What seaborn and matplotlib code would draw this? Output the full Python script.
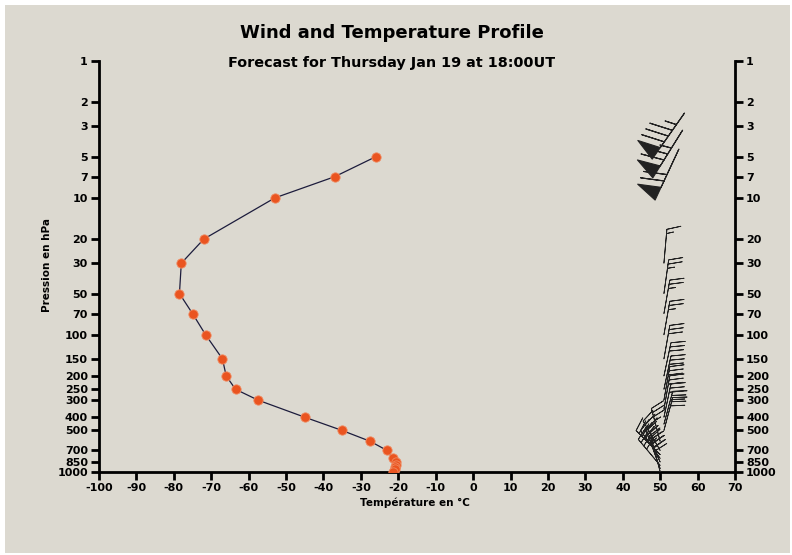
import matplotlib.pyplot as plt
import seaborn as sns
import numpy as np
from matplotlib.patches import Rectangle

# ----------------------------
# Data
# ----------------------------
pressure = [5, 7, 10, 20, 30, 50, 70, 100, 150, 200, 250, 300, 400, 500,
            600, 700, 800, 850, 900, 925, 950, 1000]
temperature = [-26, -37, -53, -72, -78, -78.5, -75, -71.5, -67, -66, -63.5,
               -57.5, -45, -35, -27.5, -23, -21.5, -20.5, -20.5, -21, -21, -21.5]

# wind column (upper strong winds)
wind_up_p = [2.4, 3.2, 4.4]
wind_up_x = [56.5, 56, 55]
wind_up_dir = [215, 212, 205]
wind_up_spd = [85, 75, 70]

# wind column (middle levels)
wind_p = [30, 50, 70, 100, 150, 200, 250, 300, 350, 400, 450, 500]
wind_x = [51, 51, 51, 51, 51, 51, 51, 51, 51, 51, 51, 51]
wind_dir = [5, 8, 10, 10, 10, 12, 12, 10, 10, 12, 15, 15]
wind_spd = [15, 25, 25, 25, 30, 30, 30, 30, 30, 30, 30, 30]

# wind column (low levels)
wind_lo_p = [600, 700, 750, 800, 850, 900, 950, 1000]
wind_lo_x = [50, 50, 50, 50, 50, 50, 50, 50]
wind_lo_dir = [345, 330, 315, 325, 335, 320, 340, 345]
wind_lo_spd = [35, 35, 35, 35, 35, 40, 40, 40]

yticks = [1, 2, 3, 5, 7, 10, 20, 30, 50, 70, 100, 150, 200, 250, 300,
          400, 500, 700, 850, 1000]
xticks = list(range(-100, 71, 10))

bg = "#dcd9d0"
sns.set_style("ticks")
plt.rcParams['font.family'] = ['DejaVu Sans']
plt.rcParams['font.weight'] = 'bold'
plt.rcParams['text.color'] = 'black'

fig = plt.figure(figsize=(7.92, 5.55), dpi=100)
fig.patch.set_facecolor("white")
fig.patches.append(Rectangle((5 / 792, 2 / 555), 785 / 792, 548 / 555,
                             transform=fig.transFigure, facecolor=bg,
                             edgecolor="none", zorder=-10))

ax = fig.add_axes([99 / 792, 1 - 471.7 / 555, 636 / 792, 410.7 / 555])
ax.set_facecolor(bg)

# ----------------------------
# Temperature profile
# ----------------------------
sns.lineplot(x=temperature, y=pressure, sort=False, estimator=None,
             color="#1c1c3c", linewidth=0.9, ax=ax, zorder=2)
sns.scatterplot(x=temperature, y=pressure, color="#ea5420", s=45,
                edgecolor="#f08a60", linewidth=0.6, ax=ax, zorder=3)

# ----------------------------
# Wind barbs
# ----------------------------
def to_uv(spd, d):
    r = np.deg2rad(np.array(d, dtype=float))
    s = np.array(spd, dtype=float)
    return -s * np.sin(r), -s * np.cos(r)

u1, v1 = to_uv(wind_up_spd, wind_up_dir)
ax.barbs(wind_up_x, wind_up_p, u1, v1, length=9, linewidth=0.8,
         color="#222222", zorder=4)
u2, v2 = to_uv(wind_spd, wind_dir)
ax.barbs(wind_x, wind_p, u2, v2, length=7, linewidth=0.6,
         color="#222222", zorder=4)
u3, v3 = to_uv(wind_lo_spd, wind_lo_dir)
ax.barbs(wind_lo_x, wind_lo_p, u3, v3, length=7, linewidth=0.6,
         color="#222222", zorder=4)

# ----------------------------
# Axes styling
# ----------------------------
ax.set_yscale("log")
ax.set_ylim(1000, 1)
ax.set_xlim(-100, 70)
ax.set_xticks(xticks)
ax.set_xticklabels([str(t) for t in xticks])
ax.set_yticks(yticks)
ax.set_yticklabels([str(t) for t in yticks])
ax.minorticks_off()
ax.tick_params(axis="both", direction="out", length=6, width=2,
               labelsize=8, pad=2, colors="black", labelcolor="black")
ax.tick_params(axis="y", right=True, labelright=True)
for side in ["left", "bottom", "right"]:
    ax.spines[side].set_linewidth(2)
    ax.spines[side].set_color("black")
    ax.spines[side].set_visible(True)
ax.spines["top"].set_visible(False)
for lab in ax.get_xticklabels() + ax.get_yticklabels():
    lab.set_fontweight("bold")

ax.set_xlabel("")
ax.set_ylabel("")
fig.text(0.524, 0.094, "Température en °C", ha="center", va="center",
         fontsize=7.5, fontweight="bold", color="black")
fig.text(0.059, 0.523, "Pression en hPa", ha="center", va="center",
         rotation=90, fontsize=7.5, fontweight="bold", color="black")

fig.text(0.495, 0.940, "Wind and Temperature Profile", ha="center",
         va="center", fontsize=13, fontweight="bold", color="black")
fig.text(0.495, 0.886, "Forecast for Thursday Jan 19 at 18:00UT",
         ha="center", va="center", fontsize=10.4, fontweight="bold",
         color="black")

plt.savefig("out.png", dpi=100, facecolor=fig.get_facecolor())
plt.close()
